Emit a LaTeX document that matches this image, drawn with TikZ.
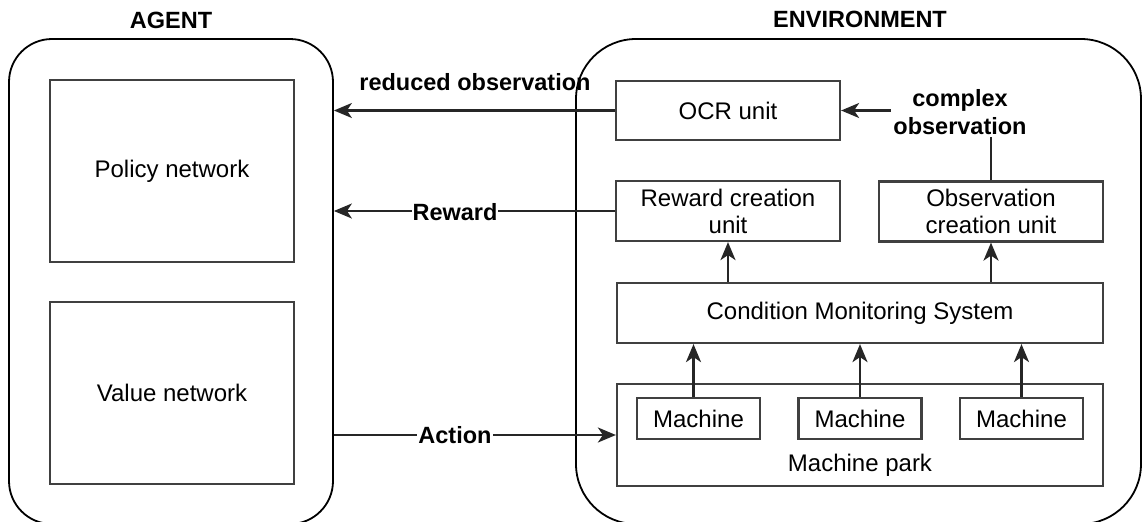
\documentclass[tikz,border=0pt]{standalone}
\usepackage{fontspec}
\setmainfont{Liberation Sans}
\usetikzlibrary{arrows.meta}
\begin{document}
\begin{tikzpicture}[x=1pt,y=-1pt,
  box/.style={draw=black!75, line width=2.2pt, inner sep=0pt, font=\fontsize{24}{27}\selectfont, align=center},
  plain/.style={inner sep=0pt, font=\fontsize{24}{27}\selectfont, align=center},
  group/.style={draw=black, line width=1.8pt, inner sep=0pt},
  lbl/.style={font=\bfseries\fontsize{23.5}{28}\selectfont, inner sep=1pt, align=center},
  conn/.style={draw=black!85, line width=2.2pt, -{Stealth[length=18pt,width=15pt,inset=5pt]}},
]
\useasboundingbox (0,0) rectangle (1144,522);
% groups
\node[group, rounded corners=43pt, minimum width=324pt, minimum height=485pt] (agent) at (171,281.5) {};
\node[lbl] (agentlbl) at (171,20) {AGENT};
\node[lbl] (envlbl) at (860,19) {ENVIRONMENT};
% agent boxes
\node[box, minimum width=244pt, minimum height=182pt] (policy) at (172,171) {Policy network};
\node[box, minimum width=244pt, minimum height=182pt] (value) at (172,393) {Value network};
% environment boxes
\node[box, minimum width=224pt, minimum height=59pt] (ocr) at (728,110.5) {OCR unit};
\node[box, minimum width=224pt, minimum height=60pt] (reward) at (728,211) {Reward creation\\unit};
\node[box, minimum width=224pt, minimum height=60pt] (obs) at (991,211.5) {Observation\\creation unit};
\node[box, minimum width=486pt, minimum height=60pt] (cms) at (860,313) {Condition Monitoring System};
\node[box, minimum width=486pt, minimum height=102pt] (park) at (860,435) {};
\node[plain] (parklbl) at (860,465) {Machine park};
\node[box, minimum width=123pt, minimum height=41pt] (m1) at (698.5,418.5) {Machine};
\node[box, minimum width=123pt, minimum height=41pt] (m2) at (860,418.5) {Machine};
\node[box, minimum width=123pt, minimum height=41pt] (m3) at (1021.5,418.5) {Machine};
% reduced observation
\node[lbl] (redlbl) at (475,82) {reduced observation};
\node[group, rounded corners=60pt, minimum width=565pt, minimum height=485pt] (env) at (858.5,281.5) {};
% connectors
\draw[conn] (ocr.west) -- (ocr.west -| agent.east);
\draw[conn] (reward.west) -- (reward.west -| agent.east);
\node[lbl, fill=white] (rewlbl) at (455,212) {Reward};
\draw[conn] (agent.east |- park.west) -- (park.west);
\node[lbl, fill=white] (actlbl) at (455,435) {Action};
\draw[conn] (obs.north) -- (obs.north |- ocr.east) -- (ocr.east);
\node[lbl, fill=white, inner sep=2pt] (cplbl) at (960,112) {complex\\observation};
\draw[conn] (reward.south |- cms.north) -- (reward.south);
\draw[conn] (obs.south |- cms.north) -- (obs.south);
\draw[conn] ([xshift=-5pt]m1.north) -- ([xshift=-5pt]m1.north |- cms.south);
\draw[conn] (m2.north) -- (m2.north |- cms.south);
\draw[conn] (m3.north) -- (m3.north |- cms.south);
\end{tikzpicture}
\end{document}
